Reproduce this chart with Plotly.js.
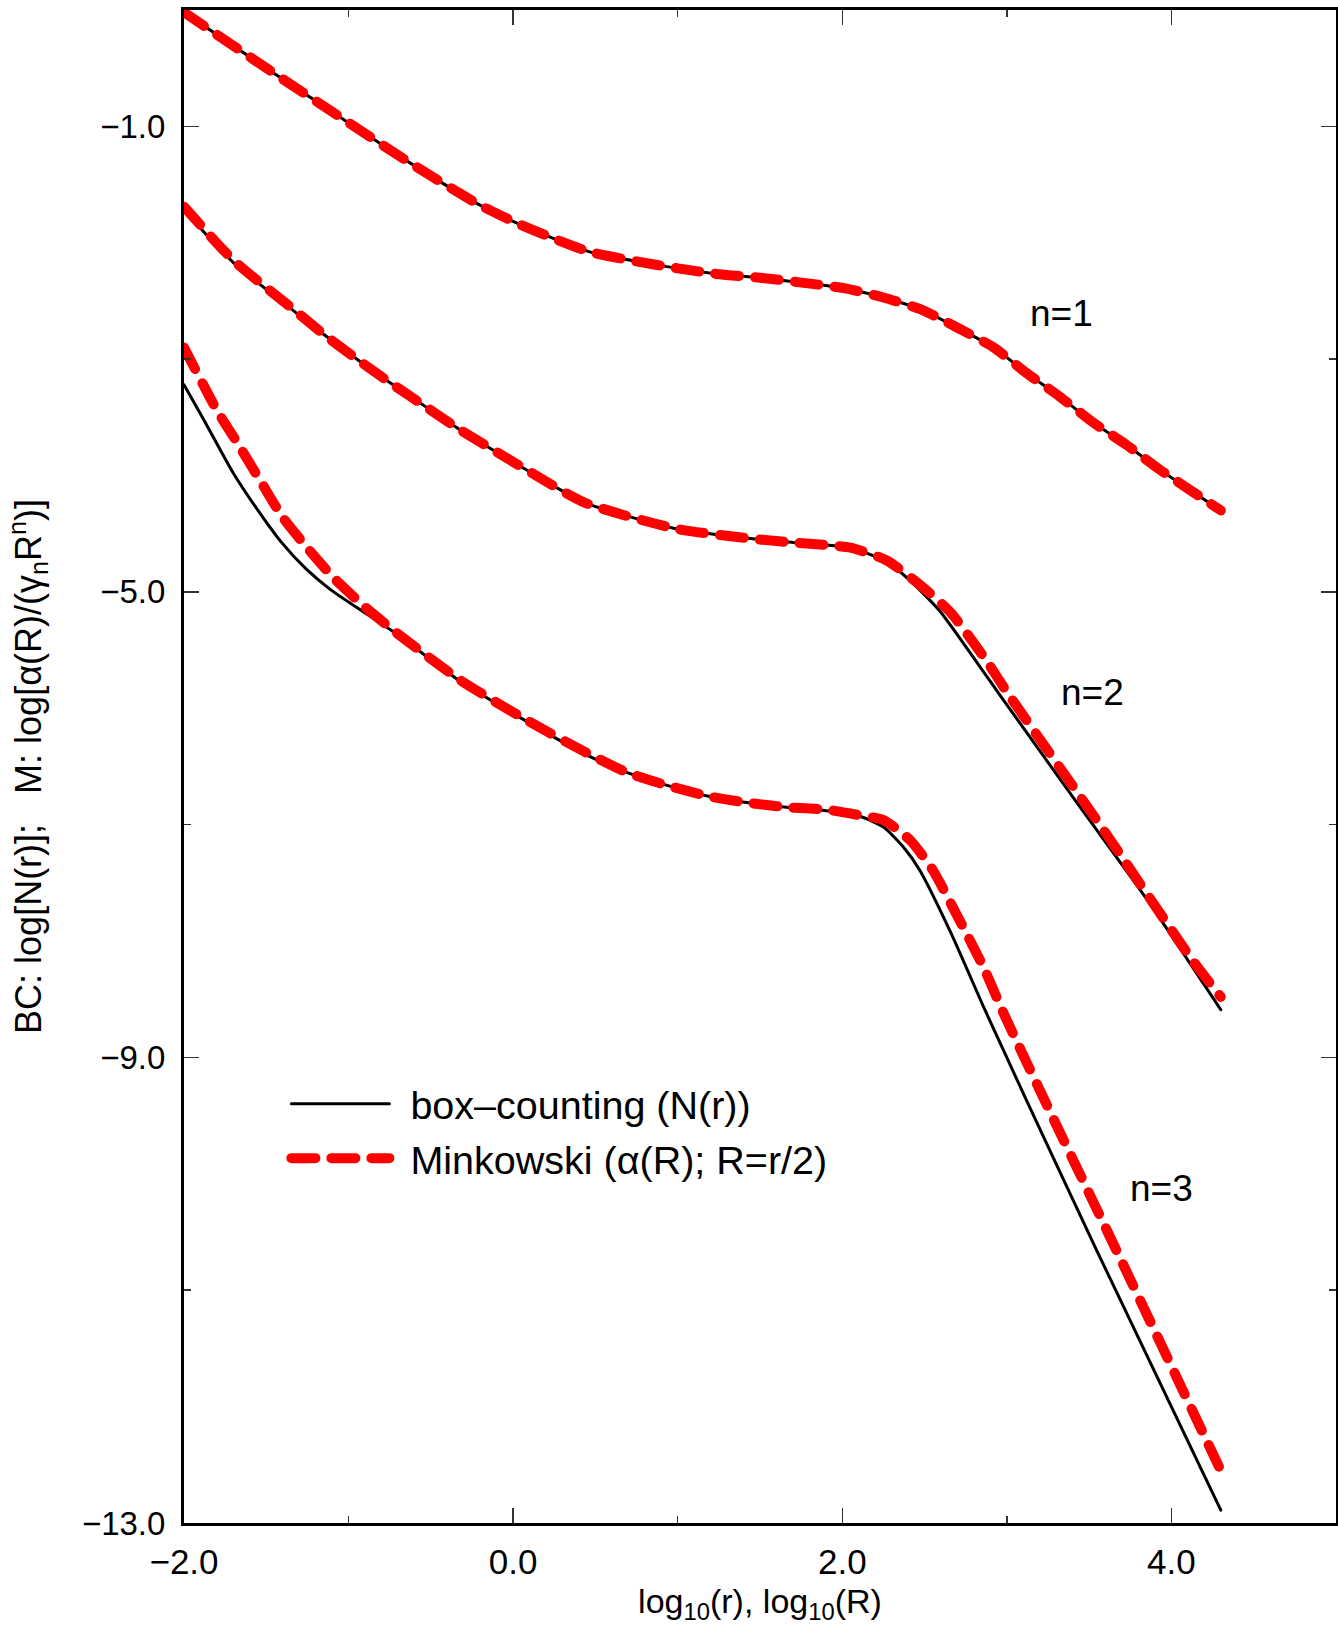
<!DOCTYPE html>
<html>
<head>
<meta charset="utf-8">
<script src="https://cdn.plot.ly/plotly-3.0.1.min.js"></script>
<style>html,body{margin:0;padding:0;background:#fff;}#chart{width:1338px;height:1627px;}</style>
</head>
<body>
<div id="chart"></div>
<script>
// ---- data ----
const n1_bc_x = [-2.0, -1.44, -1.03, -0.62, -0.21, 0.02, 0.24, 0.47, 0.75, 1.0, 1.25, 1.5, 1.74, 2.01, 2.25, 2.49, 2.70, 2.92, 3.12, 3.32, 3.52, 3.73, 3.93, 4.30];
const n1_bc_y = [-0.02, -0.556, -0.94, -1.32, -1.67, -1.83, -1.96, -2.08, -2.16, -2.22, -2.27, -2.30, -2.34, -2.39, -2.47, -2.58, -2.73, -2.90, -3.12, -3.32, -3.54, -3.74, -3.95, -4.30];
const n1_mk_x = [-2.0, -1.44, -1.03, -0.62, -0.21, 0.02, 0.24, 0.47, 0.75, 1.0, 1.25, 1.5, 1.74, 2.01, 2.25, 2.49, 2.70, 2.92, 3.12, 3.32, 3.52, 3.73, 3.93, 4.30];
const n1_mk_y = [-0.02, -0.556, -0.94, -1.32, -1.67, -1.83, -1.96, -2.08, -2.16, -2.22, -2.27, -2.30, -2.34, -2.39, -2.47, -2.58, -2.73, -2.90, -3.12, -3.32, -3.54, -3.74, -3.95, -4.30];

const n2_bc_x = [-2.0, -1.70, -1.32, -1.13, -0.93, -0.75, -0.53, -0.33, 0.08, 0.43, 1.0, 1.5, 1.74, 2.05, 2.27, 2.41, 2.59, 2.84, 2.96, 3.43, 3.85, 4.30];
const n2_bc_y = [-1.72, -2.17, -2.60, -2.81, -3.02, -3.20, -3.41, -3.60, -3.95, -4.23, -4.46, -4.55, -4.58, -4.62, -4.74, -4.90, -5.16, -5.65, -5.89, -6.82, -7.64, -8.59];
const n2_mk_x = [-2.0, -1.70, -1.32, -1.13, -0.93, -0.75, -0.53, -0.33, 0.08, 0.43, 1.0, 1.5, 1.74, 2.05, 2.27, 2.49, 2.66, 2.88, 3.0, 3.57, 4.13, 4.30];
const n2_mk_y = [-1.69, -2.15, -2.59, -2.81, -3.02, -3.20, -3.41, -3.60, -3.95, -4.23, -4.46, -4.55, -4.58, -4.62, -4.73, -4.96, -5.18, -5.60, -5.86, -7.01, -8.17, -8.48];

const n3_bc_x = [-2.0, -1.88, -1.70, -1.56, -1.41, -1.26, -1.11, -0.89, -0.71, -0.32, 0.08, 0.43, 0.69, 0.93, 1.20, 1.42, 1.66, 1.90, 2.11, 2.25, 2.37, 2.47, 2.66, 2.86, 2.98, 3.12, 3.55, 4.30];
const n3_bc_y = [-3.22, -3.52, -3.98, -4.28, -4.57, -4.80, -4.98, -5.19, -5.36, -5.77, -6.11, -6.39, -6.55, -6.66, -6.76, -6.81, -6.85, -6.88, -6.93, -7.02, -7.19, -7.39, -7.93, -8.57, -8.94, -9.37, -10.67, -12.89];
const n3_mk_x = [-2.0, -1.80, -1.68, -1.53, -1.40, -1.24, -1.09, -0.90, -0.71, -0.32, 0.08, 0.43, 0.69, 0.93, 1.20, 1.42, 1.66, 1.90, 2.11, 2.25, 2.41, 2.55, 2.69, 2.86, 2.98, 3.25, 3.67, 4.30];
const n3_mk_y = [-2.90, -3.44, -3.71, -4.06, -4.36, -4.64, -4.88, -5.13, -5.35, -5.76, -6.10, -6.37, -6.55, -6.66, -6.76, -6.81, -6.85, -6.87, -6.92, -6.96, -7.13, -7.39, -7.76, -8.23, -8.62, -9.43, -10.67, -12.55];

const curveLabels = ["n=1", "n=2", "n=3"];
const labelX = [3.33, 3.52, 3.94];
const labelY = [-2.61, -5.86, -10.13];

const legendNames = ["box\u2013counting (N(r))", "Minkowski (\u03b1(R); R=r/2)"];
const xTitle = "log<sub>10</sub>(r), log<sub>10</sub>(R)";
const yTitle = "BC: log[N(r)];\u00a0\u00a0\u00a0M: log[\u03b1(R)/(\u03b3<sub>n</sub>R<sup>n</sup>)]";

// ---- styles ----
const FONT = "Liberation Sans, Arial, Helvetica, sans-serif";
const bcLine = {color: "#000000", width: 3};
const mkLine = {color: "#ff0000", width: 10, dash: "24px,16px"};

const bcSets = [[n1_bc_x, n1_bc_y], [n2_bc_x, n2_bc_y], [n3_bc_x, n3_bc_y]];
const mkSets = [[n1_mk_x, n1_mk_y], [n2_mk_x, n2_mk_y], [n3_mk_x, n3_mk_y]];

const traces = [];
bcSets.forEach((s, i) => traces.push({
  x: s[0], y: s[1], type: "scatter", mode: "lines",
  line: Object.assign({shape: "spline", smoothing: 0.6}, bcLine),
  name: legendNames[0], legendgroup: "bc", showlegend: i === 0, hoverinfo: "skip"
}));
mkSets.forEach((s, i) => traces.push({
  x: s[0], y: s[1], type: "scatter", mode: "lines",
  line: Object.assign({shape: "spline", smoothing: 0.6}, mkLine),
  name: legendNames[1], legendgroup: "mk", showlegend: i === 0, hoverinfo: "skip"
}));

const tickCommon = {
  ticks: "inside", ticklen: 15, tickwidth: 1.5, tickcolor: "#333",
  showline: true, linewidth: 3, linecolor: "#000", mirror: "allticks",
  showgrid: false, zeroline: false, tickformat: ".1f"
};

const layout = {
  width: 1338, height: 1627,
  margin: {l: 184, r: 2, t: 10, b: 104, pad: 0},
  paper_bgcolor: "#fff", plot_bgcolor: "#fff",
  font: {family: FONT, color: "#000"},
  showlegend: true,
  legend: {
    x: 0.088, y: 0.259, xanchor: "left", yanchor: "middle",
    bgcolor: "rgba(0,0,0,0)", borderwidth: 0,
    font: {family: FONT, size: 39.5, color: "#000"},
    itemwidth: 115, tracegroupgap: 0
  },
  xaxis: Object.assign({}, tickCommon, {
    range: [-2, 5], tick0: -2, dtick: 2,
    tickfont: {family: FONT, size: 35, color: "#000"},
    ticklabelstandoff: 6,
    minor: {ticks: "inside", tick0: -2, dtick: 1, ticklen: 7, tickwidth: 1.5, tickcolor: "#333", showgrid: false},
    title: {text: xTitle, font: {family: FONT, size: 34, color: "#000"}, standoff: 10}
  }),
  yaxis: Object.assign({}, tickCommon, {
    range: [-13, 0], tick0: -13, dtick: 4,
    tickfont: {family: FONT, size: 33, color: "#000"},
    ticklabelstandoff: 9,
    minor: {ticks: "inside", tick0: -13, dtick: 2, ticklen: 7, tickwidth: 1.5, tickcolor: "#333", showgrid: false},
    title: {text: yTitle, font: {family: FONT, size: 36, color: "#000"}, standoff: 30}
  }),
  annotations: curveLabels.map((t, i) => ({
    x: labelX[i], y: labelY[i], xref: "x", yref: "y", text: t, showarrow: false,
    font: {family: FONT, size: 37, color: "#000"}, xanchor: "center", yanchor: "middle"
  }))
};

Plotly.newPlot("chart", traces, layout, {staticPlot: true}).then(gd => {
  gd.querySelectorAll(".scatterlayer .trace path.js-line").forEach(p => {
    p.style.strokeLinecap = "round";
    p.style.strokeLinejoin = "round";
  });
  gd.querySelectorAll(".legend .legendlines path").forEach(p => {
    p.setAttribute("d", "M6,0h98");
    p.style.strokeLinecap = "round";
  });
});
</script>
</body>
</html>
